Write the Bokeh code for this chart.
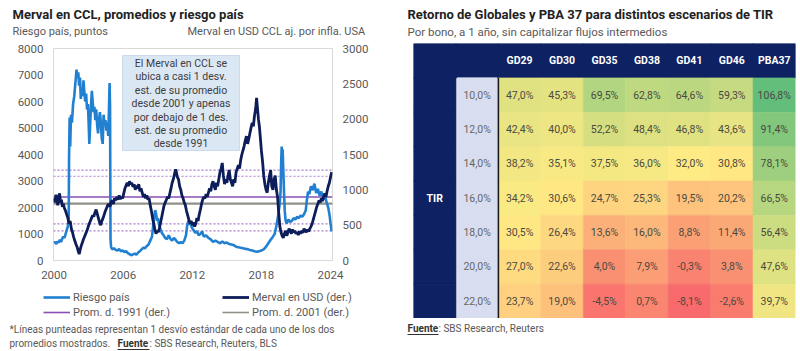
import numpy as np
from bokeh.plotting import figure
from bokeh.models import (Range1d, LinearAxis, Label, Legend, LegendItem, Span, BoxAnnotation,
                          FixedTicker, ColumnDataSource, FactorRange, LinearColorMapper, Spacer)
from bokeh.layouts import row, column
from bokeh.transform import transform, dodge
from bokeh.core.properties import value
from bokeh.embed import file_html
from bokeh.resources import INLINE

FONT = "Roboto"

# ---------------- data: left chart ----------------
rp_dates = [2000.00, 2000.10, 2000.20, 2000.30, 2000.40, 2000.50, 2000.60, 2000.70, 2000.80, 2000.90,
            2001.00, 2001.10, 2001.20, 2001.27, 2001.30, 2001.35, 2001.40, 2001.47, 2001.55, 2001.65,
            2001.75, 2001.85, 2001.95, 2002.02, 2002.10, 2002.17, 2002.25, 2002.32, 2002.40, 2002.48,
            2002.55, 2002.62, 2002.70, 2002.78, 2002.86, 2002.94, 2003.00, 2003.06, 2003.12, 2003.20,
            2003.28, 2003.35, 2003.42, 2003.50, 2003.58, 2003.66, 2003.74, 2003.82, 2003.90, 2003.98,
            2004.06, 2004.14, 2004.22, 2004.30, 2004.38, 2004.46, 2004.54, 2004.62, 2004.70, 2004.76,
            2004.82, 2004.86, 2004.90, 2004.95, 2005.05, 2005.20, 2005.35, 2005.50, 2005.65, 2005.80,
            2005.95, 2006.10, 2006.25, 2006.40, 2006.55, 2006.70, 2006.85, 2007.00, 2007.15, 2007.30,
            2007.45, 2007.60, 2007.75, 2007.90, 2008.05, 2008.20, 2008.35, 2008.50, 2008.60, 2008.70,
            2008.78, 2008.86, 2008.94, 2009.02, 2009.12, 2009.22, 2009.35, 2009.50, 2009.65, 2009.80,
            2009.95, 2010.10, 2010.25, 2010.40, 2010.55, 2010.70, 2010.85, 2011.00, 2011.15, 2011.30,
            2011.45, 2011.55, 2011.65, 2011.75, 2011.85, 2011.95, 2012.10, 2012.25, 2012.40, 2012.55,
            2012.70, 2012.85, 2013.00, 2013.20, 2013.40, 2013.60, 2013.80, 2014.00, 2014.20, 2014.40,
            2014.60, 2014.80, 2015.00, 2015.20, 2015.40, 2015.60, 2015.80, 2016.00, 2016.20, 2016.40,
            2016.60, 2016.80, 2017.00, 2017.20, 2017.40, 2017.60, 2017.80, 2018.00, 2018.20, 2018.40,
            2018.60, 2018.80, 2019.00, 2019.15, 2019.30, 2019.45, 2019.58, 2019.66, 2019.72, 2019.76,
            2019.80, 2019.84, 2019.90, 2019.96, 2020.02, 2020.10, 2020.20, 2020.35, 2020.50, 2020.65,
            2020.80, 2020.95, 2021.10, 2021.25, 2021.40, 2021.55, 2021.70, 2021.85, 2021.95, 2022.05,
            2022.15, 2022.30, 2022.45, 2022.60, 2022.75, 2022.90, 2023.05, 2023.20, 2023.35, 2023.50,
            2023.65, 2023.80, 2023.92, 2024.00, 2024.10]
rp_values = [650, 700, 620, 720, 680, 780, 700, 820, 900, 850,
             1000, 1150, 1300, 1500, 3900, 5400, 4300, 5500, 5200, 5900,
             6200, 6700, 7200, 6900, 7100, 6600, 6900, 6100, 6500, 6200,
             6800, 6400, 6000, 6300, 5700, 5900, 5200, 4400, 5000, 5800,
             6400, 6000, 5600, 5800, 5300, 5700, 5100, 4800, 5300, 5600,
             5200, 4600, 4400, 5500, 5100, 5300, 4900, 5200, 4700, 5600,
             6700, 5800, 800, 500, 420, 460, 400, 380, 430, 350,
             380, 320, 350, 280, 240, 200, 230, 260, 220, 300,
             350, 420, 480, 460, 550, 600, 750, 900, 1300, 1700,
             1900, 1750, 1500, 1600, 1350, 1200, 1050, 950, 850, 800,
             950, 820, 750, 850, 780, 700, 650, 700, 650, 750,
             950, 1300, 1500, 1350, 1450, 1250, 1150, 1050, 1100, 950,
             1000, 1100, 900, 950, 850, 800, 700, 750, 700, 650,
             720, 650, 680, 620, 600, 580, 520, 500, 480, 460,
             440, 430, 400, 380, 350, 330, 350, 380, 420, 520,
             650, 780, 900, 1000, 1300, 1700, 2100, 2600, 3800, 4300,
             3900, 4200, 3400, 2600, 1900, 1500, 1400, 1550, 1450, 1500,
             1600, 1550, 1650, 1600, 1700, 1650, 1750, 1900, 2300, 2600,
             2500, 2800, 2650, 2900, 2550, 2700, 2450, 2600, 2300, 2500,
             2200, 2000, 1700, 1400, 1100]

mv_dates = [2000.00, 2000.08, 2000.16, 2000.24, 2000.32, 2000.40, 2000.48, 2000.56, 2000.64, 2000.72,
            2000.80, 2000.90, 2001.00, 2001.10, 2001.20, 2001.30, 2001.40, 2001.50, 2001.60, 2001.70,
            2001.80, 2001.90, 2002.00, 2002.10, 2002.18, 2002.26, 2002.34, 2002.45, 2002.55, 2002.65,
            2002.75, 2002.85, 2002.95, 2003.05, 2003.15, 2003.25, 2003.35, 2003.45, 2003.55, 2003.65,
            2003.75, 2003.85, 2003.95, 2004.05, 2004.15, 2004.25, 2004.35, 2004.45, 2004.55, 2004.65,
            2004.75, 2004.85, 2004.95, 2005.05, 2005.15, 2005.25, 2005.35, 2005.45, 2005.55, 2005.65,
            2005.75, 2005.85, 2005.95, 2006.05, 2006.15, 2006.25, 2006.35, 2006.45, 2006.55, 2006.65,
            2006.75, 2006.85, 2006.95, 2007.05, 2007.15, 2007.25, 2007.35, 2007.45, 2007.55, 2007.65,
            2007.75, 2007.85, 2007.95, 2008.05, 2008.15, 2008.25, 2008.35, 2008.45, 2008.55, 2008.65,
            2008.75, 2008.85, 2008.95, 2009.05, 2009.15, 2009.25, 2009.35, 2009.45, 2009.55, 2009.65,
            2009.75, 2009.85, 2009.95, 2010.05, 2010.15, 2010.25, 2010.35, 2010.45, 2010.55, 2010.62,
            2010.70, 2010.80, 2010.90, 2011.00, 2011.10, 2011.20, 2011.30, 2011.40, 2011.50, 2011.60,
            2011.70, 2011.80, 2011.90, 2012.00, 2012.10, 2012.20, 2012.30, 2012.40, 2012.50, 2012.60,
            2012.70, 2012.80, 2012.90, 2013.00, 2013.10, 2013.20, 2013.30, 2013.40, 2013.50, 2013.60,
            2013.70, 2013.80, 2013.90, 2014.00, 2014.10, 2014.20, 2014.30, 2014.40, 2014.50, 2014.60,
            2014.70, 2014.80, 2014.90, 2015.00, 2015.10, 2015.20, 2015.30, 2015.40, 2015.50, 2015.60,
            2015.70, 2015.80, 2015.90, 2016.00, 2016.10, 2016.20, 2016.30, 2016.40, 2016.50, 2016.60,
            2016.70, 2016.80, 2016.90, 2017.00, 2017.10, 2017.20, 2017.30, 2017.40, 2017.50, 2017.58,
            2017.66, 2017.74, 2017.82, 2017.90, 2018.00, 2018.10, 2018.20, 2018.30, 2018.40, 2018.50,
            2018.60, 2018.70, 2018.80, 2018.90, 2019.00, 2019.10, 2019.20, 2019.30, 2019.40, 2019.50,
            2019.60, 2019.70, 2019.80, 2019.90, 2020.00, 2020.10, 2020.20, 2020.30, 2020.40, 2020.50,
            2020.60, 2020.70, 2020.80, 2020.90, 2021.00, 2021.10, 2021.20, 2021.30, 2021.40, 2021.50,
            2021.60, 2021.70, 2021.80, 2021.90, 2022.00, 2022.10, 2022.20, 2022.30, 2022.40, 2022.50,
            2022.60, 2022.70, 2022.80, 2022.90, 2023.00, 2023.10, 2023.20, 2023.30, 2023.40, 2023.50,
            2023.60, 2023.70, 2023.80, 2023.90, 2024.00, 2024.10]
mv_values = [880, 820, 930, 860, 780, 900, 950, 820, 860, 760,
             800, 740, 700, 650, 600, 520, 560, 450, 400, 330,
             280, 230, 190, 130, 90, 150, 200, 250, 300, 340,
             380, 420, 470, 520, 560, 600, 640, 620, 680, 720,
             660, 600, 540, 500, 560, 600, 650, 700, 740, 780,
             800, 760, 830, 850, 800, 880, 850, 900, 860, 920,
             870, 900, 880, 950, 1020, 1060, 1100, 1050, 1120, 1080,
             1100, 1040, 1080, 1000, 1060, 1020, 1080, 980, 1020, 960,
             900, 940, 880, 920, 860, 880, 780, 700, 600, 520,
             440, 380, 420, 400, 460, 540, 620, 700, 780, 820,
             860, 900, 880, 950, 1020, 1100, 1150, 1220, 1290, 1250,
             1180, 1150, 1050, 1000, 920, 880, 820, 780, 700, 640,
             580, 520, 560, 500, 540, 480, 520, 600, 560, 650,
             720, 800, 860, 900, 880, 940, 900, 960, 1020, 980,
             1080, 1120, 1050, 1000, 1100, 1050, 1150, 1250, 1300, 1380,
             1200, 1080, 1150, 1100, 1200, 1280, 1150, 1100, 1050, 1150,
             1100, 1250, 1300, 1350, 1300, 1420, 1500, 1560, 1620, 1700,
             1760, 1650, 1720, 1800, 1880, 1950, 1900, 2050, 2150, 2300,
             2150, 2000, 1900, 1750, 1550, 1400, 1200, 1080, 1000, 960,
             1100, 1200, 1280, 1050, 1000, 1150, 1200, 1000, 900, 680,
             480, 400, 350, 320, 380, 420, 350, 400, 450, 420,
             380, 440, 400, 420, 380, 400, 360, 410, 380, 420,
             390, 450, 420, 400, 440, 410, 450, 480, 520, 580,
             640, 700, 760, 800, 850, 820, 880, 840, 900, 950,
             900, 980, 1050, 1100, 1180, 1250]

avg_labels = ["Prom. d. 1991 (der.)", "Prom. d. 2001 (der.)"]
avg_values = [898, 806]
avg_std = [380, 386]
x_ticks = [2000, 2006, 2012, 2018, 2024]
left_ticks = [0, 1000, 2000, 3000, 4000, 5000, 6000, 7000, 8000]
right_ticks = [0, 500, 1000, 1500, 2000, 2500, 3000]

note_lines = ["El Merval en CCL se", "ubica a casi 1 desv.", "est. de su promedio",
              "desde 2001 y apenas", "por debajo de 1 des.", "est. de su promedio", "desde 1991"]

# ---------------- data: right table ----------------
bonds = ["GD29", "GD30", "GD35", "GD38", "GD41", "GD46", "PBA37"]
tir_rows = ["10,0%", "12,0%", "14,0%", "16,0%", "18,0%", "20,0%", "22,0%"]
ret_gd29 = [47.0, 42.4, 38.2, 34.2, 30.5, 27.0, 23.7]
ret_gd30 = [45.3, 40.0, 35.1, 30.6, 26.4, 22.6, 19.0]
ret_gd35 = [69.5, 52.2, 37.5, 24.7, 13.6, 4.0, -4.5]
ret_gd38 = [62.8, 48.4, 36.0, 25.3, 16.0, 7.9, 0.7]
ret_gd41 = [64.6, 46.8, 32.0, 19.5, 8.8, -0.3, -8.1]
ret_gd46 = [59.3, 43.6, 30.8, 20.2, 11.4, 3.8, -2.6]
ret_pba37 = [106.8, 91.4, 78.1, 66.5, 56.4, 47.6, 39.7]
returns = {"GD29": ret_gd29, "GD30": ret_gd30, "GD35": ret_gd35, "GD38": ret_gd38,
           "GD41": ret_gd41, "GD46": ret_gd46, "PBA37": ret_pba37}

# ---------------- styles ----------------
C_RP = "#2180d0"
C_MV = "#0c1d5a"
C_P91 = "#8a4fb5"
C_P01 = "#8f9088"
C_DOT = "#a77bc9"
NAVY = "#0d2163"
LAV = "#d8def0"
GREY = "#595959"


def add_label(fig, fl, fb, X, Y, text, size="11px", bold=False, color=GREY, align="left"):
    fig.add_layout(Label(x=X - fl, y=fb - Y, x_units="screen", y_units="screen", text=text,
                         text_font=FONT, text_font_size=size,
                         text_font_style="bold" if bold else "normal",
                         text_color=color, text_align=align, text_baseline="middle"))


def text_fig(w, h):
    f = figure(width=w, height=h, output_backend="svg", toolbar_location=None, title=None,
               x_range=Range1d(0, w), y_range=Range1d(0, h),
               x_axis_location=None, y_axis_location=None,
               min_border_left=0, min_border_right=0, min_border_top=0, min_border_bottom=0,
               background_fill_color="white", border_fill_color="white")
    f.outline_line_color = None
    f.grid.visible = False
    return f


def underline(fig, fl, h, X0, X1, Y):
    fig.add_layout(BoxAnnotation(left=X0 - fl, right=X1 - fl, top=h - Y + 0.5, bottom=h - Y - 0.5,
                                 left_units="screen", right_units="screen", top_units="screen",
                                 bottom_units="screen", fill_color="#333333", fill_alpha=1,
                                 line_color=None))


# text strips are offset by 1px so that Bokeh does not align their frames with the charts
OFF = 1
TW = 398

# ================= LEFT: header =================
TL_H = 40
tl = text_fig(TW, TL_H)
add_label(tl, OFF, TL_H, 12, 14, "Merval en CCL, promedios y riesgo país", size="13px", bold=True, color="#222222")
add_label(tl, OFF, TL_H, 12, 31, "Riesgo país, puntos", size="11px")
add_label(tl, OFF, TL_H, 187, 31, "Merval en USD CCL aj. por infla. USA", size="11px")

# ================= LEFT: chart =================
CH_TOP = TL_H
FL, FT, FR, FB = 53, 48, 332, 260
CH_H = 290 - CH_TOP
p = figure(width=400, height=CH_H, output_backend="svg", toolbar_location=None, title=None,
           x_range=Range1d(1999.95, 2024.17), y_range=Range1d(0, 8000),
           min_border_left=FL, min_border_right=400 - FR, min_border_top=FT - CH_TOP,
           min_border_bottom=290 - FB, background_fill_color="white", border_fill_color="white")
p.extra_y_ranges = {"merval": Range1d(0, 3000)}
p.grid.visible = False
p.outline_line_color = "#d9d9d9"
p.outline_line_width = 1

right_axis = LinearAxis(y_range_name="merval", ticker=FixedTicker(ticks=right_ticks))
p.add_layout(right_axis, "right")
p.yaxis[0].ticker = FixedTicker(ticks=left_ticks)
p.xaxis[0].ticker = FixedTicker(ticks=x_ticks)
for ax in p.axis:
    ax.axis_line_color = None
    ax.major_tick_line_color = None
    ax.minor_tick_line_color = None
    ax.major_tick_out = 0
    ax.major_tick_in = 0
    ax.major_label_text_font = FONT
    ax.major_label_text_font_size = "11.5px"
    ax.major_label_text_color = GREY
    ax.major_label_standoff = 10

for i, (a, s) in enumerate(zip(avg_values, avg_std)):
    p.add_layout(Span(location=a, dimension="width", y_range_name="merval",
                      line_color=[C_P91, C_P01][i], line_width=[1.6, 2.2][i], level="underlay"))
    for v in (a - s, a + s):
        p.add_layout(Span(location=v, dimension="width", y_range_name="merval",
                          line_color=C_DOT, line_width=1.2, line_dash="2 2", level="underlay"))

p.line(rp_dates, rp_values, line_color=C_RP, line_width=2.6)
p.line(mv_dates, mv_values, line_color=C_MV, line_width=2.8, y_range_name="merval")

p.add_layout(BoxAnnotation(left=122 - FL, right=239 - FL, top=FB - 55, bottom=FB - 150,
                           left_units="screen", right_units="screen", top_units="screen",
                           bottom_units="screen", fill_color="#dce7f4", fill_alpha=1,
                           line_color="#7ea6d8", line_width=1))
for k, t in enumerate(note_lines):
    add_label(p, FL, FB, 180.5, 63 + 13.4 * k, t, size="10.5px", color="#3d3d3d", align="center")

# ================= LEFT: legend + notes =================
BL_TOP = 290
BL_H = 351 - BL_TOP
bl = text_fig(TW, BL_H)
px_rp = bl.line([np.nan], [np.nan], line_color=C_RP, line_width=2.6)
px_mv = bl.line([np.nan], [np.nan], line_color=C_MV, line_width=2.8)
px_91 = bl.line([np.nan], [np.nan], line_color=C_P91, line_width=1.6)
px_01 = bl.line([np.nan], [np.nan], line_color=C_P01, line_width=1.6)


def make_legend(fig, items, X, Ytop, h):
    lg = Legend(items=items, location=(X - OFF, h - (Ytop + 29)), orientation="vertical",
                background_fill_alpha=0, border_line_color=None, padding=0, margin=0,
                spacing=1, glyph_width=27, glyph_height=14, label_height=14, label_standoff=3,
                label_text_font=FONT, label_text_font_size="11px", label_text_color=GREY)
    fig.add_layout(lg)


make_legend(bl, [LegendItem(label="Riesgo país", renderers=[px_rp]),
                 LegendItem(label=avg_labels[0], renderers=[px_91])], 43, 0, BL_H)
make_legend(bl, [LegendItem(label="Merval en USD (der.)", renderers=[px_mv]),
                 LegendItem(label=avg_labels[1], renderers=[px_01])], 222, 0, BL_H)
add_label(bl, OFF, BL_H, 9, 329 - BL_TOP, "*Líneas punteadas representan 1 desvío estándar de cada uno de los dos", size="10px")
add_label(bl, OFF, BL_H, 9, 343 - BL_TOP, "promedios mostrados.", size="10px")
add_label(bl, OFF, BL_H, 117, 343 - BL_TOP, "Fuente", size="10px", bold=True, color="#333333")
add_label(bl, OFF, BL_H, 149, 343 - BL_TOP, ": SBS Research, Reuters, BLS", size="10px")
underline(bl, OFF, BL_H, 117, 149, 349 - BL_TOP)

# ================= RIGHT: header =================
TR_H = 40
tr = text_fig(TW, TR_H)
add_label(tr, 400 + OFF, TR_H, 407, 14, "Retorno de Globales y PBA 37 para distintos escenarios de TIR",
          size="13px", bold=True, color="#222222")
add_label(tr, 400 + OFF, TR_H, 407, 31, "Por bono, a 1 año, sin capitalizar flujos intermedios", size="11.5px")

# ================= RIGHT: table =================
QL, QT, QR, QB = 413, 43, 795, 318
xf = ["tir_head", "tir_val"] + bonds
yf = list(reversed(tir_rows)) + ["head"]
q = figure(width=400, height=QB - TR_H, output_backend="svg", toolbar_location=None, title=None,
           x_range=FactorRange(factors=xf), y_range=FactorRange(factors=yf),
           x_axis_location=None, y_axis_location=None,
           min_border_left=QL - 400, min_border_right=800 - QR, min_border_top=QT - TR_H,
           min_border_bottom=0, background_fill_color="white", border_fill_color="white")
q.outline_line_color = None

all_vals = [v for b in bonds for v in returns[b]]
lo, hi, mid = min(all_vals), max(all_vals), float(np.median(all_vals))
RED, YEL, GRN = (248, 105, 107), (255, 235, 132), (99, 190, 123)


def lerp(c1, c2, t):
    return tuple(int(round(a + (b - a) * t)) for a, b in zip(c1, c2))


palette = []
N = 256
for i in range(N):
    v = lo + (i + 0.5) * (hi - lo) / N
    c = lerp(RED, YEL, (v - lo) / (mid - lo)) if v <= mid else lerp(YEL, GRN, (v - mid) / (hi - mid))
    palette.append("#%02x%02x%02x" % c)
mapper = LinearColorMapper(palette=palette, low=lo, high=hi)

cx, cy, cv, ct = [], [], [], []
for b in bonds:
    for r, v in zip(tir_rows, returns[b]):
        cx.append(b); cy.append(r); cv.append(v)
        ct.append(("%.1f%%" % v).replace(".", ","))
cells = ColumnDataSource(dict(x=cx, y=cy, v=cv, t=ct))

q.rect(x=xf, y=["head"] * len(xf), width=1, height=1, fill_color=NAVY, line_color=NAVY)
q.rect(x=["tir_head"] * len(tir_rows), y=tir_rows, width=1, height=1, fill_color=NAVY, line_color=NAVY)
q.rect(x=["tir_val"] * len(tir_rows), y=tir_rows, width=0.94, height=1, fill_color=LAV, line_color=LAV)
q.rect(x="x", y="y", width=1, height=1, source=cells,
       fill_color=transform("v", mapper), line_color=transform("v", mapper), line_width=0.6)

sep = ColumnDataSource(dict(xb=[bonds[0]], yt=[tir_rows[0]], yb=[tir_rows[-1]]))
q.segment(x0=dodge("xb", -0.5, range=q.x_range), x1=dodge("xb", -0.5, range=q.x_range),
          y0=dodge("yt", 0.5, range=q.y_range), y1=dodge("yb", -0.5, range=q.y_range),
          source=sep, line_color="#1a1a1a", line_width=1.6)

q.text(x=bonds, y=["head"] * len(bonds), text=bonds, text_color="white", text_font=value(FONT),
       text_font_style="bold", text_font_size="10.5px", text_align="center", text_baseline="middle")
q.text(x=["tir_head"], y=[tir_rows[3]], text=["TIR"], text_color="white", text_font=value(FONT),
       text_font_style="bold", text_font_size="10.5px", text_align="center", text_baseline="middle")
q.text(x=["tir_val"] * len(tir_rows), y=tir_rows, text=tir_rows, text_color="#666666",
       text_font=value(FONT), text_font_size="10.5px", text_align="center", text_baseline="middle")
q.text(x="x", y="y", text="t", source=cells, text_color="#4a4a40", text_font=value(FONT),
       text_font_size="10.5px", text_align="center", text_baseline="middle")

# ================= RIGHT: source =================
BR_H = 351 - QB
br = text_fig(TW, BR_H)
add_label(br, 400 + OFF, BR_H, 407, 328 - QB, "Fuente", size="10px", bold=True, color="#333333")
add_label(br, 400 + OFF, BR_H, 438, 328 - QB, ": SBS Research, Reuters", size="10px")
underline(br, 400 + OFF, BR_H, 407, 438, 334 - QB)

left = column(row(Spacer(width=OFF, height=TL_H), tl), p, row(Spacer(width=OFF, height=BL_H), bl))
right = column(row(Spacer(width=OFF, height=TR_H), tr), q, row(Spacer(width=OFF, height=BR_H), br))
layout = row(left, right)
open("out.html", "w").write(file_html(layout, INLINE))
